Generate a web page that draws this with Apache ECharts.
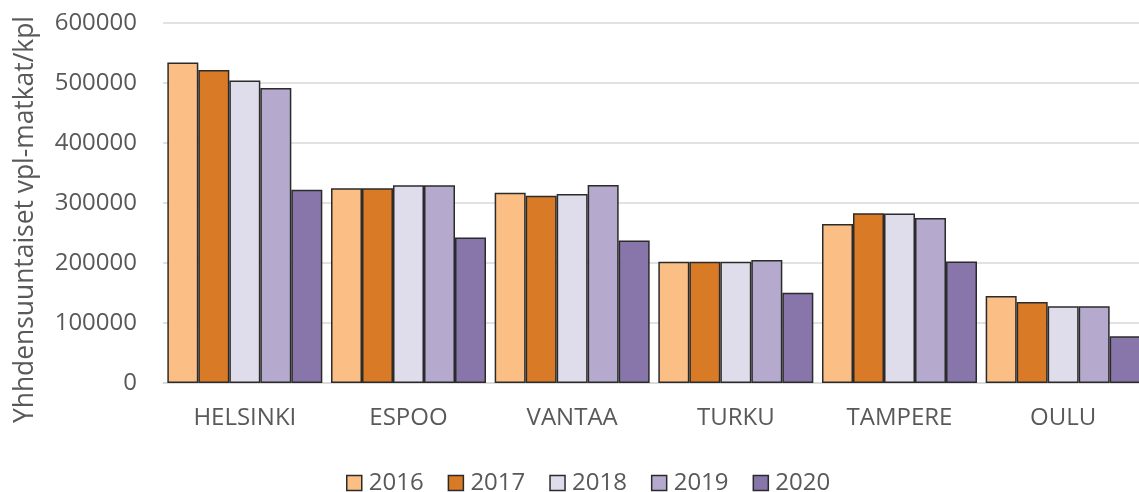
<!DOCTYPE html>
<html>
<head>
<meta charset="utf-8">
<script src="https://cdn.jsdelivr.net/npm/echarts@6/dist/echarts.min.js"></script>
<style>
html,body{margin:0;padding:0;background:#fff;}
#chart{width:1139px;height:492px;}
</style>
</head>
<body>
<div id="chart"></div>
<script>
const categories = ['HELSINKI', 'ESPOO', 'VANTAA', 'TURKU', 'TAMPERE', 'OULU'];
const years = ['2016', '2017', '2018', '2019', '2020'];
const v2016 = [534000, 324500, 317000, 202000, 265000, 145000];
const v2017 = [521500, 324500, 312000, 202000, 282800, 135000];
const v2018 = [504000, 329500, 315000, 202000, 282500, 128000];
const v2019 = [491500, 329500, 330000, 205000, 275000, 128000];
const v2020 = [322000, 242700, 237700, 150300, 202700, 78000];
const yTicks = [0, 100000, 200000, 300000, 400000, 500000, 600000];
const yTitle = 'Yhhdensuuntaiset vpl-matkat/kpl';

const colors = ['#FBBF85', '#D97A27', '#DFDCEB', '#B5AACD', '#8876AB'];
const seriesValues = [v2016, v2017, v2018, v2019, v2020];
const FONT = '"Open Sans", "Liberation Sans", sans-serif';

const chart = echarts.init(document.getElementById('chart'));
chart.setOption({
  animation: false,
  textStyle: { fontFamily: FONT },
  grid: { left: 163, width: 982, top: 23, bottom: 109, containLabel: false, outerBoundsMode: 'none' },
  legend: {
    data: years,
    left: 341,
    top: 466,
    itemWidth: 15,
    itemHeight: 15,
    itemGap: 24,
    icon: 'rect',
    textStyle: { fontFamily: FONT, fontSize: 24, color: '#595959', padding: [0, 0, 0, 2] },
    itemStyle: { borderColor: '#2b2b2b', borderWidth: 1.5 }
  },
  xAxis: {
    type: 'category',
    data: categories,
    axisLine: { show: true, lineStyle: { color: '#d9d9d9', width: 1.5 } },
    axisTick: { show: false },
    axisLabel: { fontFamily: FONT, fontSize: 24, color: '#595959', margin: 23 },
    splitLine: { show: false }
  },
  yAxis: {
    type: 'value',
    min: yTicks[0],
    max: yTicks[yTicks.length - 1],
    interval: yTicks[1] - yTicks[0],
    name: yTitle,
    nameLocation: 'middle',
    nameGap: 125,
    nameTextStyle: { fontFamily: FONT, fontSize: 26.4, color: '#595959', padding: [0, 33, 0, 0] },
    axisLine: { show: false },
    axisTick: { show: false },
    axisLabel: { fontFamily: FONT, fontSize: 24, color: '#595959', margin: 26, formatter: v => String(v) },
    splitLine: { show: true, lineStyle: { color: '#d9d9d9', width: 1.5 } }
  },
  series: years.map((y, i) => ({
    name: y,
    type: 'bar',
    data: seriesValues[i],
    barGap: '0%',
    barCategoryGap: '5.3%',
    itemStyle: { color: colors[i], borderColor: '#2b2b2b', borderWidth: 1.5 }
  }))
});
</script>
</body>
</html>
